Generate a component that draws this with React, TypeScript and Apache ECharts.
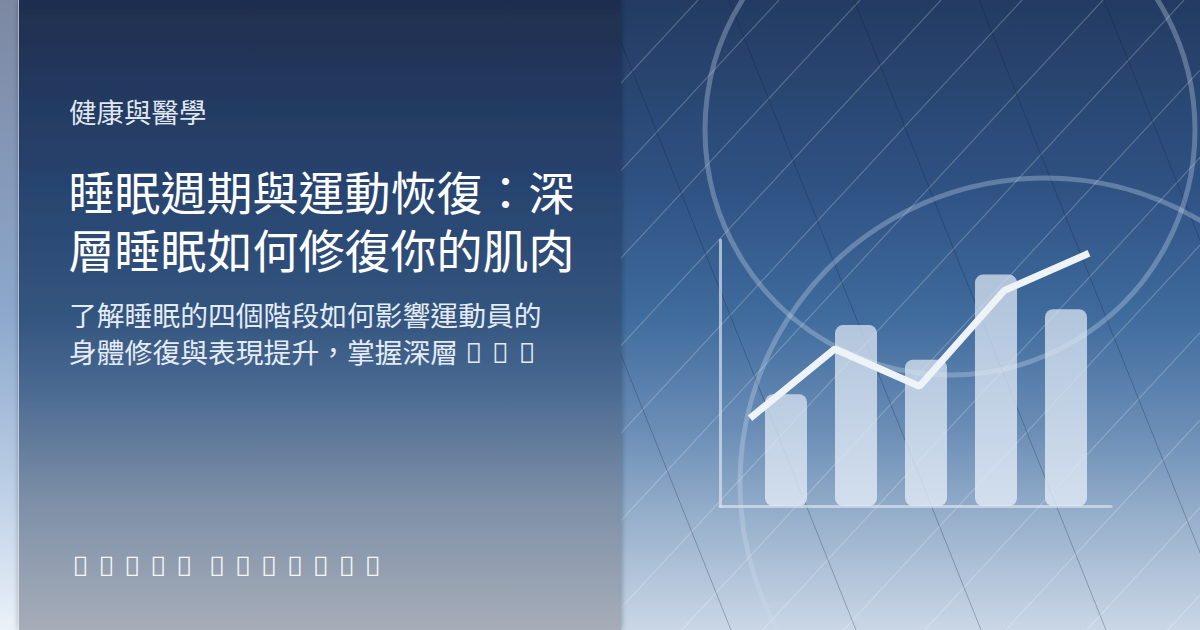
import React, { useEffect, useRef } from "react";
import * as echarts from "echarts";

// ---- data ----
const categories = ["1", "2", "3", "4", "5"];
const barValues = [42, 68, 55, 87, 74];
const lineValues = [33, 59, 45, 81, 95];

// ---- texts ----
const categoryLabel = "健康與醫學";
const titleLines = ["睡眠週期與運動恢復：深", "層睡眠如何修復你的肌肉"];
const SEP = " \u200A";
const TOFU = "\uE000";
const subtitleLines = [
  "了解睡眠的四個階段如何影響運動員的",
  "身體修復與表現提升，掌握深層 " + [TOFU, TOFU, TOFU].join(SEP),
];
const footerWords = [
  [TOFU, TOFU, TOFU, TOFU, TOFU],
  [TOFU, TOFU, TOFU, TOFU, TOFU, TOFU, TOFU],
];
const footerText = footerWords.map((w) => w.join(SEP)).join("  \u200A");

const W = 1200;
const H = 630;
const CJK = '"Noto Sans CJK TC", "Noto Sans CJK SC", sans-serif';
const LATIN_CJK = '"Noto Sans", "Noto Sans CJK TC", sans-serif';

const lin = (stops: [number, string][]) => ({
  type: "linear",
  x: 0,
  y: 0,
  x2: 0,
  y2: 1,
  colorStops: stops.map(([offset, color]) => ({ offset, color })),
});

function buildGraphic() {
  const els: any[] = [];
  // right background
  els.push({
    type: "rect",
    z: 0,
    shape: { x: 0, y: 0, width: W, height: H },
    style: {
      fill: lin([
        [0, "#233b62"],
        [0.3, "#2f5283"],
        [0.5, "#3f6b9d"],
        [0.68, "#6a8db6"],
        [0.82, "#96afcb"],
        [1, "#cad7e6"],
      ]),
    },
  });
  // light diagonal lines
  for (let k = -1; k <= 15; k++) {
    const x0 = 698 + 81 * k;
    els.push({
      type: "line",
      z: 0,
      shape: { x1: x0, y1: 0, x2: x0 - H / 1.08, y2: H },
      style: { stroke: "rgba(255,255,255,0.22)", lineWidth: 1.2 },
    });
  }
  // dark steep lines
  for (let k = -2; k <= 5; k++) {
    const x0 = 604 + 125 * k;
    els.push({
      type: "line",
      z: 0,
      shape: { x1: x0, y1: 0, x2: x0 + H / 2.5, y2: H },
      style: { stroke: "rgba(15,30,60,0.35)", lineWidth: 0.8 },
    });
  }
  // rings
  els.push({
    type: "circle",
    z: 0,
    shape: { cx: 950, cy: 130, r: 245 },
    style: { fill: "none", stroke: "rgba(205,220,240,0.32)", lineWidth: 5 },
  });
  els.push({
    type: "circle",
    z: 0,
    shape: { cx: 1045, cy: 483, r: 305 },
    style: { fill: "none", stroke: "rgba(205,220,240,0.32)", lineWidth: 5 },
  });
  // left strip
  els.push({
    type: "rect",
    z: 0,
    shape: { x: 0, y: 0, width: 19, height: H },
    style: {
      fill: lin([
        [0, "#7c88a2"],
        [0.5, "#8ca8cc"],
        [0.75, "#b7cbe3"],
        [1, "#eaf1f9"],
      ]),
    },
  });
  // left panel
  els.push({
    type: "rect",
    z: 0,
    shape: { x: 19, y: 0, width: 602, height: H },
    style: {
      fill: lin([
        [0, "#1f2e4e"],
        [0.3, "#284470"],
        [0.5, "#33557f"],
        [0.6, "#46668f"],
        [0.8, "#7e90a8"],
        [1, "#a6adb8"],
      ]),
      shadowColor: "rgba(0,0,0,0.35)",
      shadowBlur: 6,
    },
  });
  els.push({
    type: "line",
    z: 0,
    shape: { x1: 18.5, y1: 0, x2: 18.5, y2: H },
    style: { stroke: "rgba(255,255,255,0.45)", lineWidth: 1 },
  });

  const txt = (
    text: string,
    x: number,
    y: number,
    size: number,
    fill: string,
    family: string = CJK,
    lineHeight?: number
  ) => ({
    type: "text",
    z: 10,
    style: {
      text,
      x,
      y,
      fill,
      fontSize: size,
      fontFamily: family,
      fontWeight: 400,
      lineHeight,
      textAlign: "left",
      textVerticalAlign: "top",
      verticalAlign: "top",
    },
  });
  els.push(txt(categoryLabel, 69, 112 - 27.5 / 2 - 1, 27.5, "rgba(238,243,250,0.95)"));
  els.push(txt(titleLines.join("\n"), 68.5, 190 - 29, 46, "#ffffff", CJK, 58));
  els.push(
    txt(subtitleLines.join("\n"), 69, 315 - 19, 27.8, "#e4ebf4", LATIN_CJK, 37.5)
  );
  els.push(txt(footerText, 72.5, 566 - 14, 27, "rgba(255,255,255,0.92)", LATIN_CJK));
  return els;
}

const hiddenAxis = {
  axisLine: { show: false },
  axisTick: { show: false },
  axisLabel: { show: false },
  splitLine: { show: false },
};

const frameLine = {
  show: true,
  onZero: false,
  lineStyle: { color: "rgba(215,226,240,0.7)", width: 3 },
};

export default function App() {
  const ref = useRef<HTMLDivElement>(null);
  useEffect(() => {
    if (!ref.current) return;
    const chart = echarts.init(ref.current, null, { renderer: "svg" });
    chart.setOption({
      animation: false,
      grid: [
        { left: 720, top: 240, width: 391, height: 266 },
        { left: 751, top: 240, width: 350, height: 266 },
        { left: 750, top: 240, width: 339, height: 266 },
      ],
      xAxis: [
        { gridIndex: 0, type: "value", min: 0, max: 1, z: 3, ...hiddenAxis, axisLine: frameLine },
        { gridIndex: 1, type: "category", data: categories, ...hiddenAxis },
        { gridIndex: 2, type: "category", data: categories, boundaryGap: false, ...hiddenAxis },
      ],
      yAxis: [
        { gridIndex: 0, type: "value", min: 0, max: 1, z: 3, ...hiddenAxis, axisLine: frameLine },
        { gridIndex: 1, type: "value", min: 0, max: 100, ...hiddenAxis },
        { gridIndex: 2, type: "value", min: 0, max: 100, ...hiddenAxis },
      ],
      series: [
        {
          type: "bar",
          xAxisIndex: 1,
          yAxisIndex: 1,
          data: barValues,
          barWidth: 42,
          z: 4,
          itemStyle: {
            color: lin([
              [0, "rgba(218,229,242,0.74)"],
              [1, "rgba(226,235,246,0.8)"],
            ]),
            borderRadius: 8,
          },
        },
        {
          type: "line",
          xAxisIndex: 2,
          yAxisIndex: 2,
          data: lineValues,
          symbol: "none",
          z: 5,
          lineStyle: { width: 7, color: "#eef3f8" },
        },
      ],
      graphic: buildGraphic(),
    });
    return () => chart.dispose();
  }, []);
  return (
    <div
      ref={ref}
      style={{ position: "absolute", left: 0, top: 0, width: W, height: H }}
    />
  );
}
